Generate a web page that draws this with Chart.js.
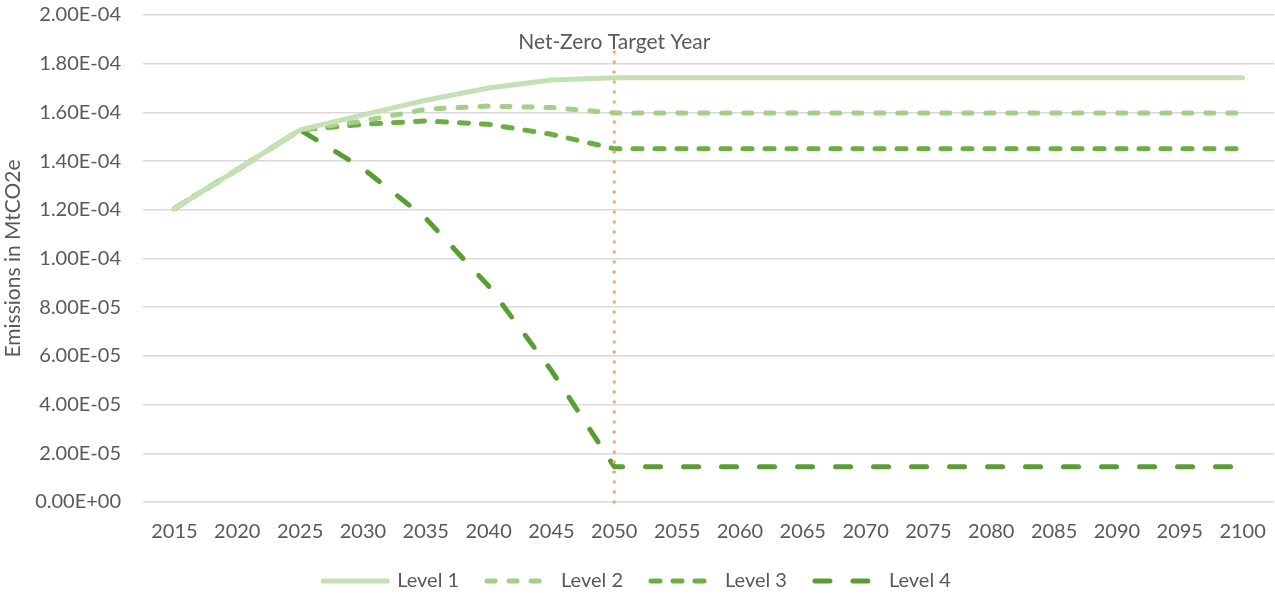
<!DOCTYPE html>
<html>
<head>
<meta charset="utf-8">
<script src="https://cdn.jsdelivr.net/npm/chart.js@4"></script>
<style>
  html, body { margin: 0; padding: 0; background: #fff; }
  #wrap { width: 1275px; height: 595px; position: relative; }
</style>
</head>
<body>
<div id="wrap"><canvas id="c"></canvas></div>
<script>
const years = ['2015','2020','2025','2030','2035','2040','2045','2050','2055','2060','2065','2070','2075','2080','2085','2090','2095','2100'];
const level1 = [1.205e-4,1.365e-4,1.528e-4,1.59e-4,1.65e-4,1.70e-4,1.733e-4,1.742e-4,1.742e-4,1.742e-4,1.742e-4,1.742e-4,1.742e-4,1.742e-4,1.742e-4,1.742e-4,1.742e-4,1.742e-4];
const level2 = [1.205e-4,1.365e-4,1.528e-4,1.565e-4,1.613e-4,1.626e-4,1.62e-4,1.598e-4,1.598e-4,1.598e-4,1.598e-4,1.598e-4,1.598e-4,1.598e-4,1.598e-4,1.598e-4,1.598e-4,1.598e-4];
const level3 = [1.205e-4,1.365e-4,1.528e-4,1.551e-4,1.565e-4,1.551e-4,1.51e-4,1.451e-4,1.451e-4,1.451e-4,1.451e-4,1.451e-4,1.451e-4,1.451e-4,1.451e-4,1.451e-4,1.451e-4,1.451e-4];
const level4 = [1.205e-4,1.365e-4,1.528e-4,1.37e-4,1.165e-4,0.887e-4,0.54e-4,0.145e-4,0.145e-4,0.145e-4,0.145e-4,0.145e-4,0.145e-4,0.145e-4,0.145e-4,0.145e-4,0.145e-4,0.145e-4];
const targetYear = '2050';
const targetLabel = 'Net-Zero Target Year';
const targetTop = 1.885e-4;

const FONT = 'Lato, "Open Sans", sans-serif';
const TXT = '#595959';

function sci(v) {
  if (v === 0) return '0.00E+00';
  const s = v.toExponential(2).toUpperCase();
  const m = s.match(/^(.*)E([+-])(\d+)$/);
  return m[1] + 'E' + m[2] + m[3].padStart(2, '0');
}

const targetPlugin = {
  id: 'target',
  afterDatasetsDraw(chart) {
    const {ctx, scales: {x, y}} = chart;
    const px = x.getPixelForValue(years.indexOf(targetYear));
    const top = y.getPixelForValue(targetTop);
    const bot = y.getPixelForValue(0);
    ctx.save();
    ctx.strokeStyle = '#f7a86e';
    ctx.lineWidth = 3.5;
    ctx.lineCap = 'round';
    ctx.setLineDash([0, 10]);
    ctx.beginPath();
    ctx.moveTo(px, bot);
    ctx.lineTo(px, top + 4);
    ctx.stroke();
    ctx.restore();
    ctx.save();
    ctx.fillStyle = TXT;
    ctx.font = '21px ' + FONT;
    ctx.textAlign = 'center';
    ctx.textBaseline = 'middle';
    ctx.fillText(targetLabel, px, top - 1);
    ctx.restore();
  }
};

function ds(label, data, color, dash) {
  return {
    label, data,
    borderColor: color, backgroundColor: color,
    borderWidth: 5,
    borderDash: dash,
    borderCapStyle: 'round',
    borderJoinStyle: 'round',
    pointRadius: 0, pointHoverRadius: 0,
    tension: 0,
    fill: false
  };
}

new Chart(document.getElementById('c'), {
  type: 'line',
  data: {
    labels: years,
    datasets: [
      ds('Level 1', level1, '#c5e0b4', []),
      ds('Level 2', level2, '#a4cf89', [8, 14]),
      ds('Level 3', level3, '#6cae43', [9, 13]),
      ds('Level 4', level4, '#5a9d35', [15, 23])
    ]
  },
  options: {
    responsive: true,
    maintainAspectRatio: false,
    animation: false,
    layout: { padding: { top: 15, right: 1, left: 0, bottom: -6 } },
    plugins: {
      legend: {
        position: 'bottom',
        labels: {
          usePointStyle: true,
          pointStyle: 'line',
          pointStyleWidth: 64,
          boxHeight: 10,
          padding: 28,
          color: TXT,
          font: { family: FONT, size: 20 },
          generateLabels(chart) {
            const items = Chart.defaults.plugins.legend.labels.generateLabels(chart);
            return items.map(it => {
              const d = chart.data.datasets[it.datasetIndex];
              return Object.assign(it, {
                lineDash: d.borderDash,
                lineCap: 'round',
                strokeStyle: d.borderColor,
                fillStyle: d.borderColor,
                lineWidth: 5,
                pointStyle: 'line'
              });
            });
          }
        }
      },
      tooltip: { enabled: false }
    },
    scales: {
      x: {
        offset: true,
        grid: { display: false, drawTicks: false },
        border: { display: false },
        ticks: { color: TXT, font: { family: FONT, size: 20, lineHeight: 1 }, padding: 20, maxRotation: 0, autoSkip: false },
        afterFit(s) { s.height = 41; s.paddingLeft = 0; s.paddingRight = 0; }
      },
      y: {
        min: 0, max: 2.0e-4,
        grid: { color: '#d9d9d9', lineWidth: 1.5, drawTicks: false },
        border: { display: false },
        ticks: { stepSize: 2e-5, color: TXT, font: { family: FONT, size: 20 }, padding: 22, callback: v => sci(v) },
        title: { display: true, text: 'Emissions in MtCO2e', color: TXT, font: { family: FONT, size: 21 }, padding: { top: 1, bottom: 2 } },
        afterFit(s) { s.width = 143; s.paddingTop = 0; s.paddingBottom = 0; }
      }
    }
  },
  plugins: [targetPlugin]
});
</script>
</body>
</html>
